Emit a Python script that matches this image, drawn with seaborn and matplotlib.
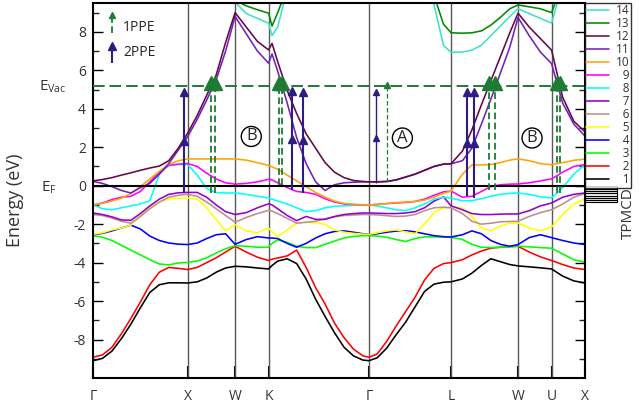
import numpy as np
import pandas as pd
import matplotlib
matplotlib.use("Agg")
import matplotlib.pyplot as plt
import matplotlib.transforms as mtransforms
import seaborn as sns

# ---------------- data ----------------
sym_labels = ["Γ", "X", "W", "K", "Γ", "L", "W", "U", "X"]
sym_k = [0.0, 1.0, 1.5, 1.854, 2.914, 3.780, 4.487, 4.841, 5.194]

k_path = [0, .1, .2, .3, .4, .5, .6, .7, .8, .9, 1.0,
          1.1, 1.2, 1.3, 1.4, 1.5,
          1.618, 1.736, 1.854,
          1.89, 1.95, 2.05, 2.15, 2.25, 2.35, 2.45, 2.55, 2.65, 2.75, 2.85, 2.914,
          3.0, 3.1, 3.2, 3.3, 3.4, 3.5, 3.6, 3.7, 3.78,
          3.9, 4.0, 4.1, 4.2, 4.3, 4.4, 4.487,
          4.605, 4.723, 4.841,
          4.958, 5.076, 5.194]

band_1 = [-9.10, -8.98, -8.60, -7.95, -7.20, -6.35, -5.55, -5.15, -5.05, -5.05, -5.06,
          -5.00, -4.80, -4.50, -4.28, -4.19,
          -4.22, -4.28, -4.33,
          -4.15, -3.92, -3.80, -4.05, -4.85, -5.90, -6.80, -7.65, -8.40, -8.85, -9.07, -9.10,
          -8.95, -8.45, -7.75, -7.10, -6.30, -5.50, -5.12, -5.02, -5.00,
          -4.85, -4.55, -4.15, -3.80, -3.95, -4.10, -4.17,
          -4.22, -4.27, -4.33,
          -4.70, -4.95, -5.06]
band_2 = [-8.92, -8.80, -8.40, -7.70, -6.90, -6.05, -5.15, -4.50, -4.25, -4.30, -4.36,
          -4.25, -4.00, -3.75, -3.45, -3.15,
          -3.45, -3.72, -3.89,
          -3.82, -3.76, -3.65, -3.35, -4.25, -5.30, -6.15, -7.15, -7.90, -8.50, -8.85, -8.92,
          -8.75, -8.10, -7.30, -6.55, -5.80, -4.90, -4.30, -4.05, -4.00,
          -3.85, -3.60, -3.40, -3.25, -3.20, -3.17, -3.15,
          -3.45, -3.70, -3.89,
          -4.10, -4.28, -4.36]
band_3 = [-2.60, -2.68, -2.85, -3.10, -3.35, -3.60, -3.85, -4.07, -4.12, -4.02, -3.99,
          -3.92, -3.75, -3.50, -3.28, -3.12,
          -3.15, -3.20, -3.20,
          -3.00, -2.82, -2.95, -3.15, -3.22, -3.22, -3.05, -2.88, -2.72, -2.64, -2.60, -2.60,
          -2.62, -2.68, -2.80, -2.90, -2.75, -2.66, -2.66, -2.68, -2.68,
          -2.80, -3.05, -3.20, -3.22, -3.20, -3.17, -3.15,
          -3.18, -3.22, -3.25,
          -3.55, -3.85, -3.98]
band_4 = [-2.55, -2.48, -2.35, -2.20, -2.05, -2.25, -2.62, -2.85, -2.98, -3.04, -3.06,
          -2.98, -2.75, -2.55, -2.50, -3.05,
          -2.80, -2.65, -2.72,
          -2.72, -2.75, -3.00, -3.20, -3.00, -2.72, -2.50, -2.38, -2.35, -2.42, -2.50, -2.53,
          -2.50, -2.42, -2.36, -2.34, -2.40, -2.50, -2.60, -2.65, -2.67,
          -2.55, -2.35, -2.50, -2.85, -3.05, -3.15, -3.06,
          -2.70, -2.55, -2.70,
          -2.85, -2.98, -3.06]
band_5 = [-2.53, -2.45, -2.30, -2.20, -2.05, -1.55, -1.10, -0.85, -0.70, -0.65, -0.64,
          -0.70, -1.15, -1.75, -2.35, -2.03,
          -2.35, -2.45, -2.20,
          -2.40, -2.65, -2.30, -1.95, -1.90, -1.93, -2.00, -2.30, -2.42, -2.48, -2.52, -2.53,
          -2.45, -2.35, -2.30, -2.40, -2.50, -2.00, -1.40, -1.15, -1.12,
          -1.15, -1.60, -2.20, -2.35, -2.10, -1.95, -1.94,
          -2.20, -2.35, -2.15,
          -1.50, -0.95, -0.69]
band_6 = [-1.50, -1.55, -1.68, -1.85, -1.95, -1.60, -1.20, -0.85, -0.60, -0.50, -0.45,
          -0.55, -0.85, -1.20, -1.55, -1.90,
          -1.65, -1.45, -1.28,
          -1.32, -1.45, -1.70, -1.95, -1.90, -1.85, -1.72, -1.62, -1.55, -1.52, -1.50, -1.50,
          -1.52, -1.56, -1.60, -1.58, -1.50, -1.30, -1.15, -1.12, -1.15,
          -1.45, -1.85, -2.00, -1.95, -1.88, -1.86, -1.85,
          -1.60, -1.40, -1.25,
          -0.95, -0.60, -0.40]
band_7 = [-1.42, -1.50, -1.62, -1.78, -1.80, -1.45, -1.05, -0.70, -0.45, -0.37, -0.35,
          -0.35, -0.60, -1.00, -1.35, -1.50,
          -1.40, -1.15, -0.94,
          -1.00, -1.20, -1.55, -1.82, -1.60, -1.75, -1.75, -1.60, -1.50, -1.45, -1.42, -1.42,
          -1.43, -1.45, -1.45, -1.42, -1.35, -1.15, -0.80, -0.58, -1.05,
          -1.25, -1.45, -1.50, -1.50, -1.48, -1.47, -1.47,
          -1.30, -1.05, -0.90,
          -0.60, -0.45, -0.38]
band_8 = [-1.00, -1.20, -1.25, -1.15, -1.05, -0.95, -0.78, 0.60, 1.08, 1.10, 1.10,
          0.55, -0.15, -0.36, -0.38, -0.38,
          -0.45, -0.55, -0.64,
          -0.70, -0.80, -0.95, -1.15, -1.35, -1.30, -1.15, -1.07, -1.05, -1.02, -1.00, -1.00,
          -1.05, -1.15, -1.25, -1.30, -1.15, -0.95, -0.70, -0.60, -0.65,
          -0.78, -0.78, -0.68, -0.55, -0.45, -0.40, -0.38,
          -0.45, -0.58, -0.64,
          -0.10, 0.60, 1.10]
band_9 = [-1.00, -0.90, -0.72, -0.60, -0.55, -0.30, 0.20, 0.70, 1.05, 1.12, 1.15,
          1.00, 0.65, 0.35, 0.15, 0.08,
          0.12, 0.20, 0.33,
          0.30, 0.15, -0.10, -0.30, -0.35, -0.45, -0.68, -0.85, -0.95, -0.98, -1.00, -1.00,
          -0.97, -0.93, -0.90, -0.87, -0.82, -0.70, -0.50, -0.32, -0.28,
          -0.60, -0.55, -0.30, -0.05, 0.05, 0.08, 0.09,
          0.15, 0.25, 0.35,
          0.70, 1.00, 1.10]
band_10 = [-1.00, -0.92, -0.80, -0.65, -0.40, -0.05, 0.35, 0.75, 1.10, 1.30, 1.39,
           1.39, 1.39, 1.39, 1.39, 1.39,
           1.33, 1.20, 1.05,
           0.98, 0.85, 0.55, 0.25, -0.05, -0.35, -0.60, -0.80, -0.92, -0.97, -0.99, -1.00,
           -0.98, -0.93, -0.88, -0.85, -0.82, -0.75, -0.60, -0.40, -0.28,
           0.60, 1.08, 1.08, 1.10, 1.20, 1.33, 1.39,
           1.30, 1.15, 1.09,
           1.20, 1.32, 1.38]
band_11 = [0.22, 0.12, -0.05, -0.25, -0.38, -0.10, 0.12, 0.60, 1.15, 1.85, 2.56,
           3.45, 4.45, 5.50, 7.00, 8.80,
           7.90, 7.00, 6.37,
           6.85, 5.95, 4.30, 2.50, 1.15, 0.20, -0.25, 0.05, 0.15, 0.18, 0.20, 0.20,
           0.20, 0.22, 0.30, 0.45, 0.60, 0.80, 1.00, 1.12, 1.14,
           1.30, 1.95, 3.20, 4.50, 5.85, 7.20, 8.75,
           7.80, 6.95, 6.35,
           4.30, 3.20, 2.58]
band_12 = [0.25, 0.32, 0.42, 0.55, 0.67, 0.80, 0.92, 1.02, 1.30, 1.95, 2.74,
           3.65, 4.70, 5.75, 7.45, 9.00,
           8.25, 7.50, 7.06,
           7.40, 6.45, 4.95, 3.75, 2.70, 1.95, 1.20, 0.70, 0.42, 0.27, 0.22, 0.20,
           0.20, 0.22, 0.30, 0.45, 0.60, 0.80, 1.00, 1.12, 1.14,
           1.80, 2.90, 4.20, 5.45, 6.70, 7.95, 8.97,
           8.25, 7.65, 7.05,
           4.60, 3.35, 2.80]
band_13 = [11.0] * 11 + [11.0, 11.0, 10.8, 10.2, 9.65,
           9.35, 9.15, 8.97,
           8.30, 9.00, 10.3] + [11.0] * 9 + [11.0] * 6 + [9.90, 8.40, 7.95,
           7.93, 7.95, 8.05, 8.35, 8.75, 9.20, 9.40,
           9.30, 9.20, 9.00,
           10.5, 11.0, 11.0]
band_14 = [11.0] * 11 + [11.0, 11.0, 11.0, 10.3, 9.55,
           8.95, 8.70, 8.45,
           7.80, 8.25, 10.2] + [11.0] * 9 + [11.0] * 6 + [9.40, 7.30, 6.93,
           6.95, 7.05, 7.30, 7.80, 8.30, 8.80, 9.20,
           8.95, 8.70, 8.45,
           10.5, 11.0, 11.0]

bands = [band_1, band_2, band_3, band_4, band_5, band_6, band_7,
         band_8, band_9, band_10, band_11, band_12, band_13, band_14]
band_names = [str(i) for i in range(1, 15)]
band_colors = ["#000000", "#ff0000", "#00ff00", "#0000ff", "#ffff00", "#bc8f8f",
               "#9400d3", "#00ffff", "#ff00ff", "#ffa500", "#7221bc", "#670748",
               "#008b00", "#40e0d0"]

E_vac = 5.2
# one-photon (1PPE) transitions: k, initial energy, head size
ope_k = [1.249, 1.284, 1.961, 1.997, 3.108, 4.179, 4.247, 4.895, 4.932]
ope_start = [-0.38, -0.38, 0.02, 0.02, 0.18, -0.20, -0.20, -0.38, -0.38]
ope_big = [True, True, True, True, False, True, True, True, True]
# two-photon (2PPE) transitions: k, initial, intermediate, final energy
tpe_k = [0.961, 2.103, 2.214, 2.986, 3.947, 4.019]
tpe_start = [-0.38, -0.24, -0.38, 0.15, -0.55, -0.64]
tpe_mid = [2.48, 2.60, 2.55, 2.62, 2.35, 2.35]
tpe_top = [5.00, 5.10, 5.00, 5.00, 5.00, 5.00]

region_labels = ["B", "A", "B"]
region_k = [1.671, 3.266, 4.635]
region_E = [2.56, 2.48, 2.48]

tpmcd_E = [-0.09, -0.21, -0.33, -0.45, -0.57, -0.69, -0.81]
tpmcd_val = [0.57, 0.57, 0.57, 0.57, 0.57, 0.57, 0.57]

# ---------------- figure ----------------
sns.set_theme(style="white")
plt.rcParams["font.family"] = ["Open Sans", "DejaVu Sans"]
plt.rcParams["mathtext.fontset"] = "custom"
plt.rcParams["mathtext.rm"] = "Open Sans"
plt.rcParams["mathtext.it"] = "Open Sans"

W, H = 641, 405
fig = plt.figure(figsize=(W / 100, H / 100), dpi=100)
ax = fig.add_axes([93 / W, 27 / H, 492 / W, 375 / H])
ax2 = fig.add_axes([585 / W, 27 / H, 60 / W, 375 / H])

rows = []
for name, vals in zip(band_names, bands):
    for k, e in zip(k_path, vals):
        rows.append((name, k, e))
df = pd.DataFrame(rows, columns=["band", "k", "E"])

for kk in sym_k[1:-1]:
    ax.axvline(kk, color="0.35", lw=1.0, zorder=1)

sns.lineplot(data=df, x="k", y="E", hue="band", hue_order=band_names,
             palette=dict(zip(band_names, band_colors)), estimator=None,
             sort=False, lw=1.15, ax=ax, zorder=2)

ax.axhline(0, color="black", lw=1.5, zorder=3)
green = "#1e7b34"
indigo = "#2c1c84"
ax.axhline(E_vac, color=green, lw=1.4, ls=(0, (6, 2.5)), zorder=3)

# 1PPE arrows
for k, s, big in zip(ope_k, ope_start, ope_big):
    ax.vlines(k, s, E_vac, colors=green, lw=1.3 if big else 0.9,
              linestyles=(0, (3.7, 1.9)), zorder=4)
    if big:
        ax.plot([k], [E_vac + 0.16], marker="^", ms=10, color=green, zorder=5)
    else:
        ax.plot([k], [E_vac + 0.03], marker="^", ms=5, color=green, zorder=5)
# 2PPE arrows
for k, s, m, t in zip(tpe_k, tpe_start, tpe_mid, tpe_top):
    thin = abs(k - 2.986) < 1e-6
    ax.vlines(k, s, t - 0.1, colors=indigo, lw=1.0 if thin else 1.5, zorder=4)
    ms = 5 if thin else 6
    ax.plot([k], [t - 0.15], marker="^", ms=ms, color=indigo, zorder=5)
    ax.plot([k], [m - 0.15], marker="^", ms=ms, color=indigo, zorder=5)

for lab, kk, ee in zip(region_labels, region_k, region_E):
    ax.text(kk, ee, lab, ha="center", va="center", fontsize=12,
            bbox=dict(boxstyle="circle,pad=0.12", fc="none", ec="black", lw=1.0),
            zorder=6)

# in-plot legend for the arrows
ax.vlines(0.203, 7.93, 8.85, colors=green, lw=1.3, linestyles=(0, (3.7, 1.9)))
ax.plot([0.203], [8.88], marker="^", ms=5, color=green)
ax.text(0.316, 8.24, "1PPE", fontsize=10, va="center", ha="left")
ax.vlines(0.203, 6.37, 7.3, colors=indigo, lw=1.5)
ax.plot([0.203], [7.27], marker="^", ms=6, color=indigo)
ax.text(0.316, 6.9, "2PPE", fontsize=10, va="center", ha="left")

ax.set_xlim(sym_k[0], sym_k[-1])
ax.set_ylim(-10, 9.5)
ax.set_xticks(sym_k)
ax.set_xticklabels(sym_labels, fontsize=10)
ax.set_yticks([-8, -6, -4, -2, 0, 2, 4, 6, 8])
ax.set_yticklabels(["-8", "-6", "-4", "-2", "0", "2", "4", "6", "8"], fontsize=10)
ax.set_yticks(np.arange(-9, 10, 1), minor=True)
ax.tick_params(axis="y", which="major", direction="in", length=7, width=1,
               right=True, left=True, pad=5, colors="black")
ax.tick_params(axis="y", which="minor", direction="in", length=4, width=1,
               right=True, left=True)
ax.tick_params(axis="x", which="major", direction="in", length=9, width=1.5,
               bottom=True, top=False, pad=8, colors="black")
ax.tick_params(axis="x", labelcolor="#333333")
ax.tick_params(axis="y", labelcolor="#333333")
ax.set_xlabel("")
ax.set_ylabel("")
for sp in ax.spines.values():
    sp.set_color("black")
    sp.set_linewidth(1.5)

trans = mtransforms.blended_transform_factory(ax.transAxes, ax.transData)
ax.text(-0.082, 5.15, r"E$_{\mathrm{Vac}}$", transform=trans, ha="center",
        va="center", fontsize=11, color="#333333")
ax.text(-0.090, -0.1, r"E$_{\mathrm{F}}$", transform=trans, ha="center",
        va="center", fontsize=11, color="#333333")
fig.text(15 / W, 1 - 200 / H, "Energy (eV)", rotation=90, ha="center",
         va="center", fontsize=13, color="#333333")

handles, labels = ax.get_legend_handles_labels()
ax.get_legend().remove()
labels = [("\u2007" + l) if len(l) == 1 else l for l in labels]

# right panel: legend + TPMCD
ax2.set_ylim(-10, 9.5)
ax2.set_xlim(0, 60)
ax2.axis("off")
leg = ax2.legend(handles[::-1], labels[::-1], loc="upper left",
                 bbox_to_anchor=(0, 1), borderaxespad=0, fontsize=8.5,
                 labelspacing=0.0, handlelength=1.9, handletextpad=0.6,
                 borderpad=0.12, frameon=True, fancybox=False)
leg.get_frame().set_edgecolor("black")
leg.get_frame().set_linewidth(1.0)
for t in leg.get_texts():
    t.set_color("#333333")
ax2.barh(tpmcd_E, [v * 56 for v in tpmcd_val], height=0.12, left=0, fill=False,
         edgecolor="black", lw=0.8)
ax2.text(43, -1.45, "TPMCD", rotation=90, ha="center", va="center",
         fontsize=11, color="#333333")

fig.savefig("out.png", dpi=100)
